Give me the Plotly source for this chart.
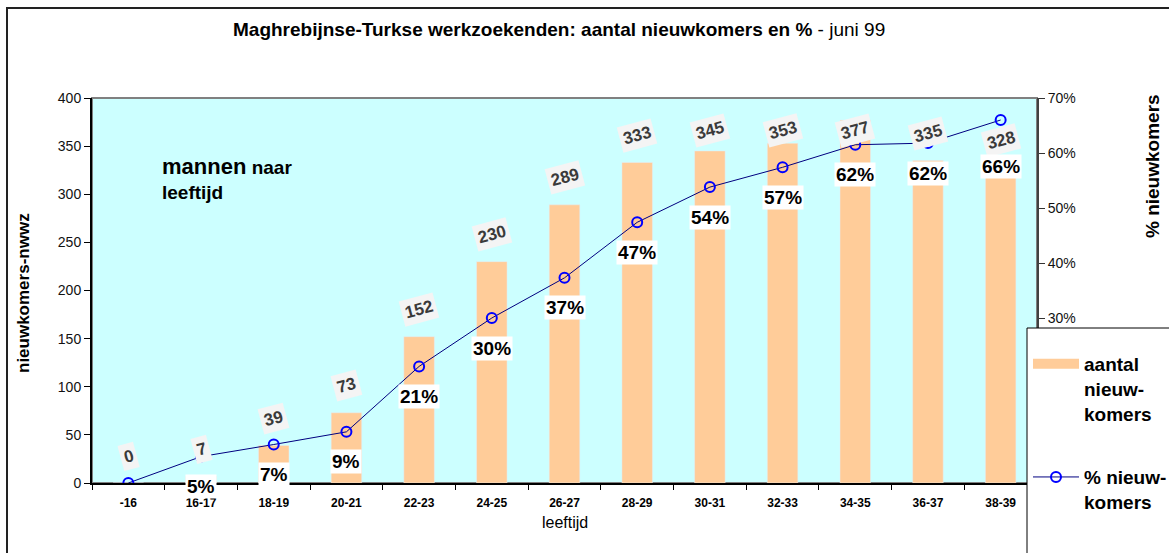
import plotly.graph_objects as go

categories = ["-16", "16-17", "18-19", "20-21", "22-23", "24-25", "26-27",
              "28-29", "30-31", "32-33", "34-35", "36-37", "38-39"]
aantal = [0, 7, 39, 73, 152, 230, 289, 333, 345, 353, 377, 335, 328]
pct = [0.0, 4.8, 7.0, 9.3, 21.2, 30.0, 37.3, 47.4, 53.8, 57.4, 61.5, 61.8, 66.0]

W, H = 1169, 553
L, R, T, B = 92, 132, 98, 70
PW, PH = W - L - R, H - T - B

def px(x):
    return (x - L) / PW

def py(y):
    return (H - B - y) / PH

FONT = "Liberation Sans, Arial, sans-serif"
PEACH = "#FFCC99"
idx = list(range(len(categories)))
Y2MAX = 0.7
# percentage labels sit 30 px below their marker, but never higher than 166 px from the top
anchor_cap = (H - B - 166 + 30) / PH * Y2MAX

fig = go.Figure()
fig.add_trace(go.Bar(x=idx, y=aantal, marker_color=PEACH, width=0.42,
                     showlegend=False, yaxis="y"))
fig.add_trace(go.Scatter(x=idx, y=[p / 100 for p in pct], yaxis="y2",
                         mode="lines+markers",
                         line=dict(color="#000080", width=1),
                         marker=dict(symbol="circle-open", size=10, color="#0000FF",
                                     line=dict(width=2, color="#0000FF")),
                         showlegend=False))
# legend entries
fig.add_trace(go.Scatter(x=[None], y=[None], mode="lines",
                         line=dict(color=PEACH, width=13),
                         name="aantal<br>nieuw-<br>komers", legendgroup="a"))
fig.add_trace(go.Scatter(x=[None], y=[None], mode="lines+markers", yaxis="y2",
                         line=dict(color="#000080", width=1),
                         marker=dict(symbol="circle-open", size=10, color="#0000FF",
                                     line=dict(width=2, color="#0000FF")),
                         name="% nieuw-<br>komers", legendgroup="b"))

ann = []
# bar value labels
for i, v in zip(idx, aantal):
    ann.append(dict(x=i, y=min(v + 28, 366), xref="x", yref="y", text=f"<b>{v}</b>",
                    showarrow=False, textangle=-15, bgcolor="#f4f4f4",
                    font=dict(family=FONT, size=17, color="#3a3a3a"),
                    xanchor="center", yanchor="middle", borderpad=3))
# percentage labels
for i, p in zip(idx, pct):
    if p <= 0:
        continue
    ann.append(dict(x=i, y=min(p / 100, anchor_cap), xref="x", yref="y2",
                    yshift=-30, text=f"<b>{round(p)}%</b>",
                    showarrow=False, bgcolor="white",
                    font=dict(family=FONT, size=19, color="black"),
                    xanchor="center", yanchor="middle", borderpad=1))

ann.append(dict(x=px(160), y=py(178), xref="paper", yref="paper", xanchor="left",
                yanchor="middle", align="left", showarrow=False,
                text="<b><span style='font-size:22px'>mannen</span> naar<br>leeftijd</b>",
                font=dict(family=FONT, size=19, color="black")))
ann.append(dict(x=px(559), y=py(30), xref="paper", yref="paper", showarrow=False,
                xanchor="center", yanchor="middle",
                text="<b>Maghrebijnse-Turkse werkzoekenden: aantal nieuwkomers en %</b> - juni 99",
                font=dict(family=FONT, size=19, color="black")))
ann.append(dict(x=px(23), y=py(293), xref="paper", yref="paper", showarrow=False,
                textangle=-90, xanchor="center", yanchor="middle",
                text="<b>nieuwkomers-nwwz</b>",
                font=dict(family=FONT, size=17, color="black")))
ann.append(dict(x=px(1152), y=py(166), xref="paper", yref="paper", showarrow=False,
                textangle=-90, xanchor="center", yanchor="middle",
                text="<b>% nieuwkomers</b>",
                font=dict(family=FONT, size=19, color="black")))
ann.append(dict(x=px(565), y=py(522), xref="paper", yref="paper", showarrow=False,
                xanchor="center", yanchor="middle", text="leeftijd",
                font=dict(family=FONT, size=16, color="black")))

shapes = [
    dict(type="rect", xref="paper", yref="paper", x0=0, x1=1, y0=0, y1=1,
         line=dict(color="#808080", width=2), layer="below"),
    dict(type="rect", xref="paper", yref="paper", x0=px(7), x1=px(1180),
         y0=py(8), y1=py(570), line=dict(color="#222222", width=2), layer="above"),
    dict(type="rect", xref="paper", yref="paper", x0=px(1027), x1=px(1180),
         y0=py(328), y1=py(570), line=dict(color="black", width=1),
         fillcolor="white", layer="above"),
]

fig.update_layout(
    width=W, height=H,
    margin=dict(l=L, r=R, t=T, b=B, autoexpand=False),
    paper_bgcolor="white", plot_bgcolor="#CCFFFF",
    font=dict(family=FONT, color="black"),
    bargap=0.58,
    xaxis=dict(range=[-0.5, 12.5], tickvals=idx, ticktext=categories, showgrid=False,
               ticks="", showline=True, linecolor="black", linewidth=2, zeroline=False,
               ticklabelstandoff=8,
               minor=dict(tickvals=[i - 0.5 for i in idx] + [12.5], ticks="outside",
                          ticklen=5, tickcolor="black"),
               tickfont=dict(family=FONT, size=12, color="black", weight="bold")),
    yaxis=dict(range=[0, 400], tickvals=list(range(0, 401, 50)), showgrid=False,
               ticks="outside", ticklen=6, tickcolor="black", showline=True,
               linecolor="black", linewidth=2, zeroline=False,
               tickfont=dict(family=FONT, size=14, color="#111")),
    yaxis2=dict(range=[0, Y2MAX], overlaying="y", side="right", showgrid=False,
                tickvals=[0.3, 0.4, 0.5, 0.6, 0.7], tickformat=".0%",
                ticks="outside", ticklen=6, tickcolor="#333", showline=True,
                linecolor="#404040", linewidth=2, zeroline=False,
                tickfont=dict(family=FONT, size=14, color="#111")),
    legend=dict(xref="container", yref="container", x=1028 / W, y=1 - 345 / H,
                xanchor="left", yanchor="top",
                bgcolor="rgba(0,0,0,0)", borderwidth=0, valign="top",
                tracegroupgap=36, itemwidth=46,
                font=dict(family=FONT, size=19, color="black", weight="bold")),
    annotations=ann, shapes=shapes,
)

fig.write_html("out.html", config={"displayModeBar": False},
               post_script="document.body.style.margin='0';")
